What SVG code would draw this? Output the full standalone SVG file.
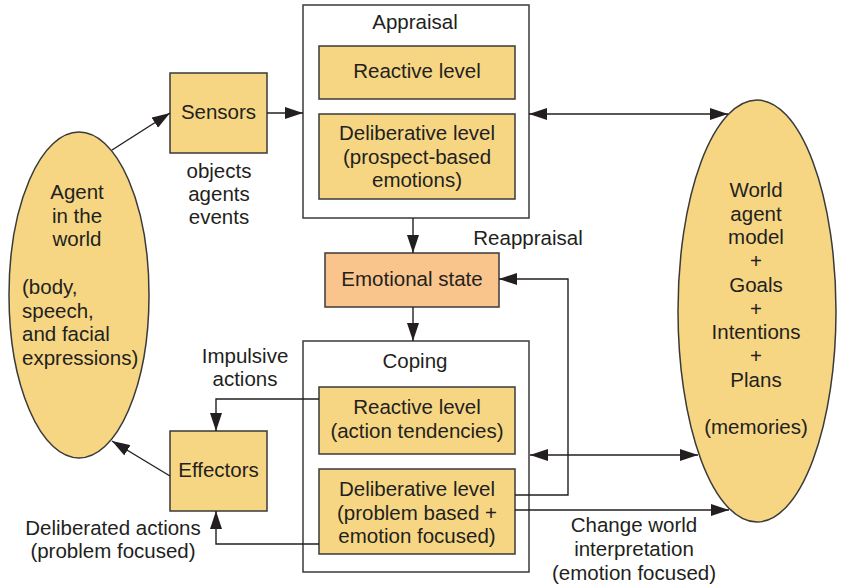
<svg xmlns="http://www.w3.org/2000/svg" width="842" height="586" viewBox="0 0 842 586">
<defs>
<style>
text{font-family:"Liberation Sans",Arial,sans-serif;font-size:20.5px;fill:#231f20;text-anchor:middle}
.l{text-anchor:start}
.box{fill:#f6d683;stroke:#3a3a3a;stroke-width:1.5}
.emo{fill:#f9c58c;stroke:#3a3a3a;stroke-width:1.5}
.frame{fill:#fff;stroke:#3a3a3a;stroke-width:1.5}
.c{fill:none;stroke:#231f20;stroke-width:1.4}
</style>
<marker id="ah" markerUnits="userSpaceOnUse" markerWidth="18" markerHeight="12" refX="18" refY="6" orient="auto-start-reverse">
<path d="M0,0 L18,6 L0,12 z" fill="#231f20"/>
</marker>
</defs>
<rect width="842" height="586" fill="#fff"/>

<g id="agent">
<ellipse cx="79" cy="295" rx="70" ry="163" class="box"/>
<text x="77" y="199">Agent</text>
<text x="77" y="222.5">in the</text>
<text x="77" y="246">world</text>
<text x="22" y="294" class="l">(body,</text>
<text x="22" y="317.5" class="l">speech,</text>
<text x="22" y="341" class="l">and facial</text>
<text x="22" y="364.5" class="l">expressions)</text>
</g>

<g id="sensors">
<rect x="170" y="73" width="97" height="80" class="box"/>
<text x="218.5" y="119">Sensors</text>
</g>
<g id="sensor-label">
<text x="219" y="178">objects</text>
<text x="219" y="201">agents</text>
<text x="219" y="224">events</text>
</g>

<g id="appraisal">
<rect x="303" y="5" width="226" height="213" class="frame"/>
<text x="415" y="29">Appraisal</text>
<g id="appraisal-reactive">
<rect x="319" y="46" width="196" height="53" class="box"/>
<text x="417" y="78">Reactive level</text>
</g>
<g id="appraisal-deliberative">
<rect x="319" y="114" width="196" height="85" class="box"/>
<text x="417" y="140">Deliberative level</text>
<text x="417" y="163.5">(prospect-based</text>
<text x="417" y="187">emotions)</text>
</g>
</g>

<g id="emotional-state">
<rect x="325" y="253" width="174" height="54" class="emo"/>
<text x="412" y="286">Emotional state</text>
</g>
<text x="528" y="245">Reappraisal</text>

<g id="coping">
<rect x="303" y="341" width="226" height="231" class="frame"/>
<text x="415" y="368">Coping</text>
<g id="coping-reactive">
<rect x="319" y="387" width="196" height="67" class="box"/>
<text x="417" y="414">Reactive level</text>
<text x="417" y="437.5">(action tendencies)</text>
</g>
<g id="coping-deliberative">
<rect x="319" y="469" width="196" height="85" class="box"/>
<text x="417" y="496">Deliberative level</text>
<text x="417" y="519.5">(problem based +</text>
<text x="417" y="543">emotion focused)</text>
</g>
</g>

<g id="effectors">
<rect x="170" y="431" width="97" height="80" class="box"/>
<text x="218.5" y="477">Effectors</text>
</g>
<text x="245" y="363">Impulsive</text>
<text x="245" y="386">actions</text>
<text x="113" y="535">Deliberated actions</text>
<text x="113" y="558">(problem focused)</text>

<g id="world-model">
<ellipse cx="757" cy="311" rx="79" ry="211" class="box"/>
<text x="756" y="197">World</text>
<text x="756" y="220.7">agent</text>
<text x="756" y="244.4">model</text>
<text x="756" y="268">+</text>
<text x="756" y="291.8">Goals</text>
<text x="756" y="315.5">+</text>
<text x="756" y="339.2">Intentions</text>
<text x="756" y="363">+</text>
<text x="756" y="386.6">Plans</text>
<text x="756" y="434">(memories)</text>
</g>
<text x="634" y="532">Change world</text>
<text x="634" y="556">interpretation</text>
<text x="634" y="580">(emotion focused)</text>

<g id="connectors">
<line x1="112" y1="150" x2="170" y2="113" class="c" marker-end="url(#ah)"/>
<line x1="267" y1="113" x2="303" y2="113" class="c" marker-end="url(#ah)"/>
<line x1="529" y1="114" x2="728" y2="114" class="c" marker-start="url(#ah)" marker-end="url(#ah)"/>
<line x1="413" y1="218" x2="413" y2="253" class="c" marker-end="url(#ah)"/>
<line x1="413" y1="307" x2="413" y2="341" class="c" marker-end="url(#ah)"/>
<polyline points="515,495 568,495 568,279 499,279" class="c" marker-end="url(#ah)"/>
<line x1="530" y1="455" x2="698" y2="455" class="c" marker-start="url(#ah)" marker-end="url(#ah)"/>
<line x1="515" y1="510" x2="729" y2="510" class="c" marker-end="url(#ah)"/>
<polyline points="319,399 216,399 216,431" class="c" marker-end="url(#ah)"/>
<polyline points="319,544 216,544 216,511" class="c" marker-end="url(#ah)"/>
<line x1="170" y1="476" x2="112" y2="441" class="c" marker-end="url(#ah)"/>
</g>
</svg>
